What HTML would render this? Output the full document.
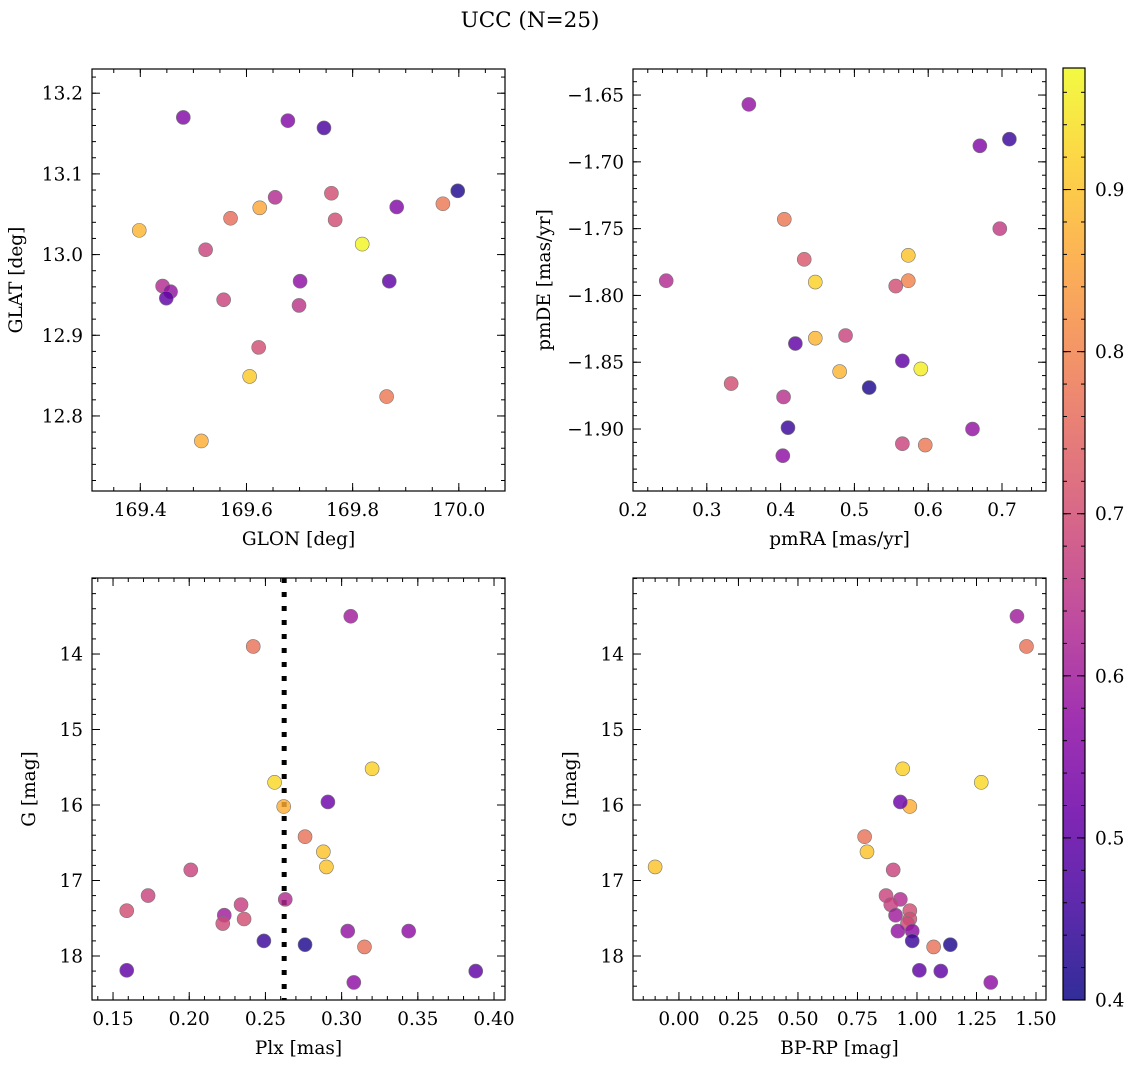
<!DOCTYPE html>
<html><head><meta charset="utf-8"><style>
html,body{margin:0;padding:0;background:#fff;}
svg{display:block;font-family:"DejaVu Serif","Liberation Serif",serif;}
</style></head><body>
<svg id="fig" width="1136" height="1068" viewBox="0 0 1136 1068" xmlns="http://www.w3.org/2000/svg">
<text x="530" y="27" text-anchor="middle" font-size="21.5">UCC (N=25)</text>
</svg>
<script>
// Panel 1: GLON / GLAT
const glon=[169.481,169.678,169.746,169.998,169.398,169.654,169.760,169.970,169.570,169.625,169.767,169.883,169.818,169.523,169.442,169.457,169.449,169.701,169.869,169.557,169.699,169.623,169.606,169.864,169.515];
const glat=[13.170,13.166,13.157,13.079,13.030,13.071,13.076,13.063,13.045,13.058,13.043,13.059,13.013,13.006,12.961,12.954,12.946,12.967,12.967,12.944,12.937,12.885,12.849,12.824,12.769];
const prob1=[0.55,0.55,0.47,0.42,0.88,0.63,0.7,0.78,0.76,0.86,0.7,0.55,0.97,0.68,0.63,0.58,0.5,0.57,0.5,0.68,0.65,0.7,0.91,0.78,0.87];
// Panel 2: pmRA / pmDE
const pmra=[0.357,0.670,0.710,0.405,0.697,0.432,0.573,0.245,0.447,0.573,0.556,0.447,0.488,0.420,0.333,0.565,0.590,0.480,0.520,0.404,0.410,0.660,0.565,0.596,0.403];
const pmde=[-1.657,-1.688,-1.683,-1.743,-1.750,-1.773,-1.770,-1.789,-1.790,-1.789,-1.793,-1.832,-1.830,-1.836,-1.866,-1.849,-1.855,-1.857,-1.869,-1.876,-1.899,-1.900,-1.911,-1.912,-1.920];
const prob2=[0.58,0.55,0.45,0.78,0.66,0.72,0.9,0.63,0.92,0.8,0.7,0.88,0.68,0.5,0.7,0.5,0.96,0.88,0.42,0.64,0.45,0.58,0.68,0.78,0.57];
// Panels 3 & 4: Plx, BP-RP, G
const plx=[0.306,0.242,0.256,0.320,0.262,0.291,0.276,0.288,0.290,0.201,0.173,0.159,0.263,0.234,0.223,0.236,0.222,0.304,0.344,0.249,0.276,0.315,0.159,0.308,0.388];
const bprp=[1.42,1.46,1.27,0.94,0.97,0.93,0.78,0.79,-0.10,0.90,0.87,0.97,0.93,0.89,0.91,0.97,0.96,0.92,0.98,0.98,1.14,1.07,1.01,1.31,1.10];
const gmag=[13.5,13.9,15.7,15.52,16.02,15.96,16.42,16.62,16.82,16.86,17.2,17.4,17.25,17.32,17.46,17.51,17.57,17.67,17.67,17.8,17.85,17.88,18.19,18.35,18.2];
const prob3=[0.6,0.77,0.93,0.92,0.87,0.52,0.77,0.9,0.9,0.68,0.68,0.7,0.63,0.67,0.6,0.7,0.69,0.58,0.57,0.45,0.42,0.77,0.5,0.57,0.5];
const plxMedian=0.2623;
const cbTicks=[0.4,0.5,0.6,0.7,0.8,0.9];
const VMIN=0.4,VMAX=0.975;

const NS="http://www.w3.org/2000/svg";
const svg=document.getElementById('fig');
const stops=["#0d0887","#41049d","#6a00a8","#8f0da4","#b12a90","#cc4778","#e16462","#f2844b","#fca636","#fcce25","#f0f921"];
function hex(h){return [1,3,5].map(i=>parseInt(h.substr(i,2),16));}
function plasma(t){t=Math.max(0,Math.min(1,t));const f=t*10,i=Math.min(9,Math.floor(f)),u=f-i;const a=hex(stops[i]),b=hex(stops[i+1]);return 'rgb('+a.map((v,k)=>Math.round(v+(b[k]-v)*u)).join(',')+')';}
function el(tag,attrs,parent){const e=document.createElementNS(NS,tag);for(const k in attrs)e.setAttribute(k,attrs[k]);(parent||svg).appendChild(e);return e;}
function fmt(v,d){let s=v.toFixed(d);if(v<0)s='\u2212'+s.slice(1);return s;}

function panel(o){
  const g=el('g',{});
  
  
  const X=v=>o.x0+(v-o.xmin)/(o.xmax-o.xmin)*(o.x1-o.x0);
  const Y=o.yinv?(v=>o.y0+(v-o.ymin)/(o.ymax-o.ymin)*(o.y1-o.y0)):(v=>o.y1-(v-o.ymin)/(o.ymax-o.ymin)*(o.y1-o.y0));
  const tg=el('g',{stroke:'#000','stroke-width':1},g);
  const mk=(start,step,min,max,fn)=>{const n0=Math.ceil((min-start)/step-1e-6);for(let n=n0;start+n*step<=max+1e-9;n++)fn(start+n*step);};
  const xs=Math.ceil(o.xmin/o.xminor)*o.xminor;
  mk(xs,o.xminor,o.xmin,o.xmax,v=>{const p=X(v);el('line',{x1:p,x2:p,y1:o.y1,y2:o.y1-4},tg);el('line',{x1:p,x2:p,y1:o.y0,y2:o.y0+4},tg);});
  const ys=Math.ceil(Math.min(o.ymin,o.ymax)/o.yminor)*o.yminor;
  mk(ys,o.yminor,Math.min(o.ymin,o.ymax),Math.max(o.ymin,o.ymax),v=>{const p=Y(v);el('line',{y1:p,y2:p,x1:o.x0,x2:o.x0+4},tg);el('line',{y1:p,y2:p,x1:o.x1,x2:o.x1-4},tg);});
  const xl=el('g',{'font-size':18.5,'text-anchor':'middle'},g);
  
  
  o.xticks.forEach(v=>{const p=X(v);el('line',{x1:p,x2:p,y1:o.y1,y2:o.y1-8},tg);el('line',{x1:p,x2:p,y1:o.y0,y2:o.y0+8},tg);const t=el('text',{x:p,y:o.y1+25},xl);t.textContent=fmt(v,o.xd);});
  const yl=el('g',{'font-size':18.5,'text-anchor':'end'},g);
  
  
  o.yticks.forEach(v=>{const p=Y(v);el('line',{y1:p,y2:p,x1:o.x0,x2:o.x0+8},tg);el('line',{y1:p,y2:p,x1:o.x1,x2:o.x1-8},tg);const t=el('text',{x:o.x0-9,y:p+6.5},yl);t.textContent=fmt(v,o.yd);});
  const xt=el('text',{x:(o.x0+o.x1)/2,y:o.y1+54,'font-size':18.5,'text-anchor':'middle'},g);xt.textContent=o.xlabel;
  
  
  const yx=o.x0-o.ylabOff,yc=(o.y0+o.y1)/2;
  const yt=el('text',{x:yx,y:yc,'font-size':18.5,'text-anchor':'middle',transform:'rotate(-90 '+yx+' '+yc+')'},g);yt.textContent=o.ylabel;
  
  
  if(o.vline!==undefined){const p=X(o.vline);const ln=el('line',{x1:p,x2:p,y1:o.y0,y2:o.y1,stroke:'#000','stroke-width':5,'stroke-dasharray':'5 9'},g);
    
    }
  const pg=el('g',{},g);
  o.xs.forEach((v,i)=>{const c=el('circle',{cx:X(v),cy:Y(o.ys[i]),r:7,fill:plasma((o.cs[i]-VMIN)/(VMAX-VMIN)),'fill-opacity':0.82,stroke:'#777','stroke-width':0.6},pg);
    
    });
  const fr=el('rect',{x:o.x0,y:o.y0,width:o.x1-o.x0,height:o.y1-o.y0,fill:'none',stroke:'#000','stroke-width':1.2},g);
  
  
}

panel({name:'glon-glat-panel',x0:92,x1:505,y0:69,y1:491,xmin:169.309,xmax:170.087,ymin:12.707,ymax:13.230,
  xticks:[169.4,169.6,169.8,170.0],xd:1,xminor:0.05,yticks:[12.8,12.9,13.0,13.1,13.2],yd:1,yminor:0.02,
  xlabel:'GLON [deg]',ylabel:'GLAT [deg]',ylabOff:70,xs:glon,ys:glat,cs:prob1});
panel({name:'pm-panel',x0:633,x1:1046,y0:69,y1:491,xmin:0.2,xmax:0.7596,ymin:-1.9464,ymax:-1.6305,
  xticks:[0.2,0.3,0.4,0.5,0.6,0.7],xd:1,xminor:0.02,yticks:[-1.9,-1.85,-1.8,-1.75,-1.7,-1.65],yd:2,yminor:0.01,
  xlabel:'pmRA [mas/yr]',ylabel:'pmDE [mas/yr]',ylabOff:83,xs:pmra,ys:pmde,cs:prob2});
panel({name:'plx-g-panel',x0:92,x1:505,y0:578,y1:1000,xmin:0.1362,xmax:0.4072,ymin:12.993,ymax:18.583,yinv:true,
  xticks:[0.15,0.2,0.25,0.3,0.35,0.4],xd:2,xminor:0.01,yticks:[14,15,16,17,18],yd:0,yminor:0.2,
  xlabel:'Plx [mas]',ylabel:'G [mag]',ylabOff:57,xs:plx,ys:gmag,cs:prob3,vline:plxMedian});
panel({name:'cmd-panel',x0:633,x1:1046,y0:578,y1:1000,xmin:-0.193,xmax:1.542,ymin:12.993,ymax:18.583,yinv:true,
  xticks:[0,0.25,0.5,0.75,1.0,1.25,1.5],xd:2,xminor:0.05,yticks:[14,15,16,17,18],yd:0,yminor:0.2,
  xlabel:'BP-RP [mag]',ylabel:'G [mag]',ylabOff:57,xs:bprp,ys:gmag,cs:prob3});

// colorbar
const cb=el('g',{});


const cx0=1063,cx1=1085,cy0=68,cy1=1000;
const defs=el('defs',{},cb);
const lg=el('linearGradient',{id:'cbg',x1:0,y1:1,x2:0,y2:0},defs);
for(let i=0;i<=20;i++){const t=i/20;el('stop',{offset:t,'stop-color':plasma(t),'stop-opacity':0.85},lg);}
el('rect',{x:cx0,y:cy0,width:cx1-cx0,height:cy1-cy0,fill:'url(#cbg)',stroke:'#000','stroke-width':1.2},cb);
const CY=v=>cy1-(v-VMIN)/(VMAX-VMIN)*(cy1-cy0);
for(let v=0.42;v<VMAX;v+=0.02){const p=CY(v);el('line',{x1:cx1,x2:cx1-4,y1:p,y2:p,stroke:'#000'},cb);el('line',{x1:cx0,x2:cx0+4,y1:p,y2:p,stroke:'#000'},cb);}
cbTicks.forEach(v=>{const p=CY(v);el('line',{x1:cx1,x2:cx1-8,y1:p,y2:p,stroke:'#000'},cb);el('line',{x1:cx0,x2:cx0+8,y1:p,y2:p,stroke:'#000'},cb);
  const t=el('text',{x:cx1+10,y:p+6.5,'font-size':18.5},cb);t.textContent=v.toFixed(1);});
</script>
</body></html>
